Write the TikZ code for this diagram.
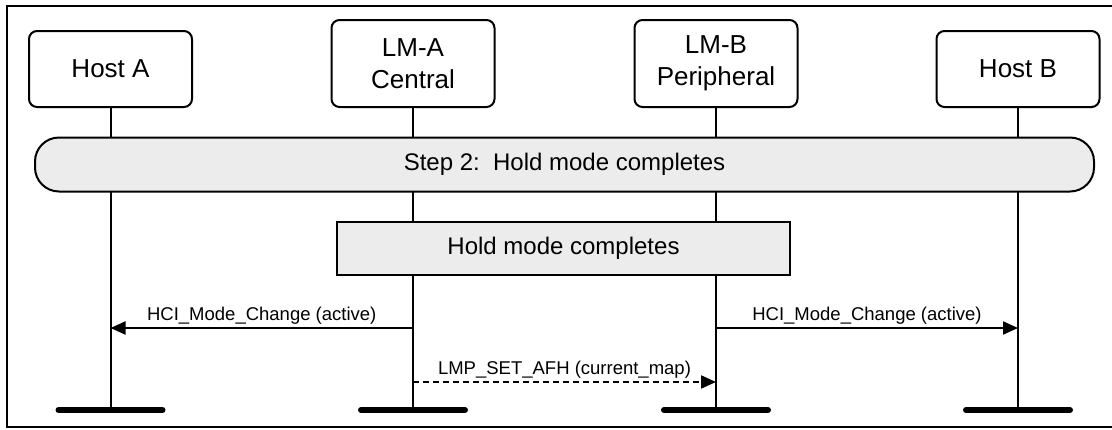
\documentclass[tikz,border=0pt]{standalone}
\usepackage{fontspec}
\setmainfont{Liberation Sans}
\usetikzlibrary{positioning,arrows.meta}
\definecolor{BarGray}{RGB}{236,236,236}

\begin{document}
\begin{tikzpicture}[
    x=1pt, y=-1pt,
    party/.style={rectangle, rounded corners=8pt, draw, line width=2pt, fill=white,
        minimum width=163pt, anchor=south, font=\fontsize{26}{32}\selectfont, align=center},
    phase/.style={rectangle, rounded corners=24pt, draw, line width=2pt, fill=BarGray,
        minimum width=1059pt, minimum height=54pt, font=\fontsize{24}{29}\selectfont},
    action/.style={rectangle, draw, line width=2pt, fill=BarGray,
        minimum width=453pt, minimum height=53pt, font=\fontsize{24}{29}\selectfont},
    life/.style={line width=2pt},
    foot/.style={line width=6pt, line cap=round},
    msg/.style={-{Triangle[length=15pt,width=13pt]}, line width=2pt},
    dmsg/.style={msg, dash pattern=on 6pt off 4pt},
    lbl/.style={above, font=\fontsize{18.5}{22}\selectfont, inner sep=2.5pt}
]
\useasboundingbox (0,0) rectangle (1112,429);
\draw[line width=2pt] (7,6) rectangle (1116,427);

\node[party, minimum height=76pt] (hostA) at (110.5,108) {Host A};
\node[party, minimum height=87pt] (lmA)   at (413,108)   {LM-A\\Central};
\node[party, minimum height=87pt] (lmB)   at (716,108)   {LM-B\\Peripheral};
\node[party, minimum height=76pt] (hostB) at (1018,108)  {Host B};

% lifelines and their feet
\foreach \p in {hostA,lmA,lmB,hostB} {
    \coordinate (\p end) at (\p |- 0,410);
    \draw[life] (\p.south) -- (\p end);
    \draw[foot] ([xshift=-52pt]\p end) -- ([xshift=52pt]\p end);
}

\node[phase]  (step) at (564.5,164.5) {Step 2:\ \ Hold mode completes};
\node[action] (hold) at (563.5,248.5) {Hold mode completes};

\draw[msg] (lmA |- 0,328) -- node[lbl] {HCI\_Mode\_Change (active)} (hostA |- 0,328);
\draw[msg] (lmB |- 0,328) -- node[lbl] {HCI\_Mode\_Change (active)} (hostB |- 0,328);
\draw[dmsg] (lmA |- 0,382) -- node[lbl] {LMP\_SET\_AFH (current\_map)} (lmB |- 0,382);
\end{tikzpicture}
\end{document}
